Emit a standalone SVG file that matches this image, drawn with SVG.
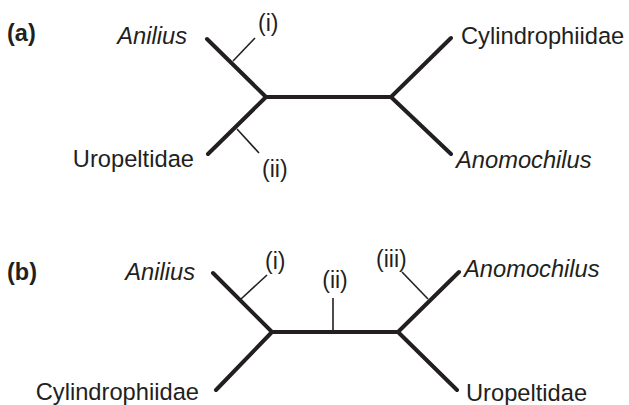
<svg xmlns="http://www.w3.org/2000/svg" width="629" height="405" viewBox="0 0 629 405">
  <style>
    .branch { stroke: #231f20; stroke-width: 4; stroke-linecap: round; fill: none; }
    .tick { stroke: #231f20; stroke-width: 1.6; fill: none; }
    .taxon { font-family: "Liberation Sans", Arial, sans-serif; font-size: 23.7px; fill: #231f20; }
    .it { font-style: italic; }
    .mark { font-family: "Liberation Sans", Arial, sans-serif; font-size: 23px; fill: #231f20; }
    .panel { font-family: "Liberation Sans", Arial, sans-serif; font-size: 23.5px; font-weight: bold; fill: #231f20; }
  </style>
  <rect width="629" height="405" fill="#ffffff"/>

  <!-- Panel (a) -->
  <g id="panel-a">
    <text class="panel" x="7" y="41">(a)</text>
    <g id="a-connectors">
      <path class="branch" d="M207 39 L266 97 L391 97 L451 38 M208 154 L266 97 M391 97 L451 154"/>
      <path class="tick" d="M233 61 L255 38"/>
      <path class="tick" d="M237 129 L259 153"/>
    </g>
    <g id="a-anilius"><text class="taxon it" x="187" y="44" text-anchor="end">Anilius</text></g>
    <g id="a-uropeltidae"><text class="taxon" x="194" y="167" text-anchor="end">Uropeltidae</text></g>
    <g id="a-cylindrophiidae"><text class="taxon" x="461" y="44">Cylindrophiidae</text></g>
    <g id="a-anomochilus"><text class="taxon it" x="456" y="168">Anomochilus</text></g>
    <g id="a-i"><text class="mark" x="258" y="31">(i)</text></g>
    <g id="a-ii"><text class="mark" x="262" y="177">(ii)</text></g>
  </g>

  <!-- Panel (b) -->
  <g id="panel-b">
    <text class="panel" x="7" y="280">(b)</text>
    <g id="b-connectors">
      <path class="branch" d="M213 273 L272 332 L398 332 L459 272 M216 390 L272 332 M398 332 L457 390"/>
      <path class="tick" d="M241 299 L267 275"/>
      <path class="tick" d="M333 332 L333 298"/>
      <path class="tick" d="M428 299 L402 272"/>
    </g>
    <g id="b-anilius"><text class="taxon it" x="195" y="280" text-anchor="end">Anilius</text></g>
    <g id="b-cylindrophiidae"><text class="taxon" x="199" y="400" text-anchor="end">Cylindrophiidae</text></g>
    <g id="b-anomochilus"><text class="taxon it" x="464" y="277">Anomochilus</text></g>
    <g id="b-uropeltidae"><text class="taxon" x="466" y="401">Uropeltidae</text></g>
    <g id="b-i"><text class="mark" x="265" y="269">(i)</text></g>
    <g id="b-ii"><text class="mark" x="335" y="288" text-anchor="middle">(ii)</text></g>
    <g id="b-iii"><text class="mark" x="376" y="267">(iii)</text></g>
  </g>
</svg>
